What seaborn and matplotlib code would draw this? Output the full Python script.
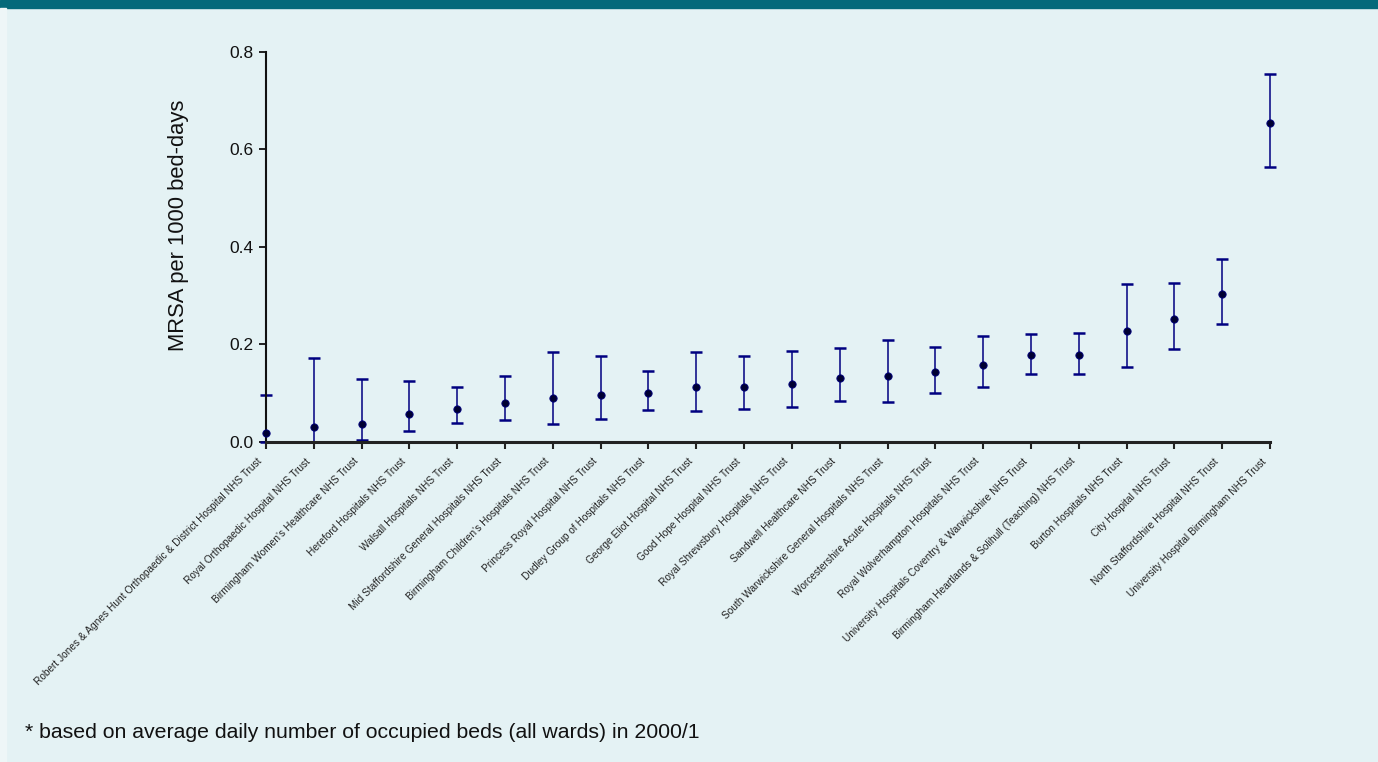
"""
MRSA rate per 1000 bed-days by trust, with confidence intervals
"""

import numpy as np
import pandas as pd
import matplotlib
matplotlib.use('Agg')
import matplotlib.pyplot as plt
from matplotlib.patches import Rectangle
from matplotlib.transforms import ScaledTranslation
import seaborn as sns

trusts = [
    "Robert Jones & Agnes Hunt Orthopaedic & District Hospital NHS Trust",
    "Royal Orthopaedic Hospital NHS Trust",
    "Birmingham Women's Healthcare NHS Trust",
    "Hereford Hospitals NHS Trust",
    "Walsall Hospitals NHS Trust",
    "Mid Staffordshire General Hospitals NHS Trust",
    "Birmingham Children's Hospitals NHS Trust",
    "Princess Royal Hospital NHS Trust",
    "Dudley Group of Hospitals NHS Trust",
    "George Eliot Hospital NHS Trust",
    "Good Hope Hospital NHS Trust",
    "Royal Shrewsbury Hospitals NHS Trust",
    "Sandwell Healthcare NHS Trust",
    "South Warwickshire General Hospitals NHS Trust",
    "Worcestershire Acute Hospitals NHS Trust",
    "Royal Wolverhampton Hospitals NHS Trust",
    "University Hospitals Coventry & Warwickshire NHS Trust",
    "Birmingham Heartlands & Solihull (Teaching) NHS Trust",
    "Burton Hospitals NHS Trust",
    "City Hospital NHS Trust",
    "North Staffordshire Hospital NHS Trust",
    "University Hospital Birmingham NHS Trust",
]

rate = [0.017, 0.031, 0.036, 0.057, 0.068, 0.080, 0.089, 0.095, 0.099, 0.112, 0.112,
        0.118, 0.130, 0.134, 0.143, 0.158, 0.177, 0.177, 0.227, 0.251, 0.304, 0.654]
lower = [0.000, 0.000, 0.004, 0.021, 0.038, 0.044, 0.036, 0.047, 0.066, 0.063, 0.068,
         0.071, 0.084, 0.081, 0.101, 0.112, 0.139, 0.140, 0.153, 0.190, 0.241, 0.564]
upper = [0.096, 0.172, 0.129, 0.125, 0.112, 0.135, 0.184, 0.176, 0.145, 0.185, 0.176,
         0.187, 0.193, 0.209, 0.195, 0.218, 0.222, 0.223, 0.323, 0.326, 0.376, 0.755]

df = pd.DataFrame({'trust': trusts, 'rate': rate, 'lower': lower, 'upper': upper})
df['pos'] = np.arange(len(df))

bg = '#E4F2F4'
sns.set_theme(style='ticks')
plt.rcParams['font.family'] = ['Liberation Sans', 'DejaVu Sans']

fig = plt.figure(figsize=(13.78, 7.62), dpi=100, facecolor=bg)
fig.patches.append(Rectangle((0, 1 - 8 / 762), 1, 8 / 762, transform=fig.transFigure,
                             color='#04697A', zorder=0))
fig.patches.append(Rectangle((0, 0), 6 / 1378, 1 - 8 / 762, transform=fig.transFigure,
                             color='#EEF6F7', zorder=0))

ax = fig.add_axes([266 / 1378, 1 - 441.7 / 762, (1270 - 266) / 1378, (441.7 - 52) / 762])
ax.set_facecolor(bg)

# confidence intervals
ax.errorbar(df['pos'], df['rate'],
            yerr=[df['rate'] - df['lower'], df['upper'] - df['rate']],
            fmt='none', ecolor='#000080', elinewidth=1.1, capsize=4, capthick=1.8,
            clip_on=False, zorder=2)
sns.scatterplot(data=df, x='pos', y='rate', ax=ax, color='#000033', edgecolor='#000080',
                s=28, linewidth=0.6, zorder=3, clip_on=False, legend=False)

ax.set_xlim(0, len(df) - 1)
ax.set_ylim(0, 0.8)
ax.set_yticks([0.0, 0.2, 0.4, 0.6, 0.8])
ax.set_yticklabels(['0.0', '0.2', '0.4', '0.6', '0.8'], fontsize=12.5, color='#111111')
ax.set_xticks(df['pos'])
ax.set_xlabel('')
ax.set_ylabel('MRSA per 1000 bed-days', fontsize=15.8, color='#111111')
ax.yaxis.set_label_coords(-0.077, 0.556)

sns.despine(ax=ax)
ax.spines['bottom'].set_linewidth(2.2)
ax.spines['bottom'].set_color('#222222')
ax.spines['left'].set_linewidth(1.5)
ax.spines['left'].set_color('#111111')
ax.tick_params(axis='x', length=5, width=1.5, color='#222222', pad=4)
ax.tick_params(axis='y', length=5, width=1.3, color='#111111', pad=4)

ax.set_xticklabels(df['trust'], rotation=45, ha='right', va='top',
                   rotation_mode='anchor', fontsize=7.3, color='#222222')
shift = ScaledTranslation(-9 / 100, -2 / 100, fig.dpi_scale_trans)
for lab in ax.get_xticklabels():
    lab.set_transform(lab.get_transform() + shift)

fig.text(25 / 1378, 1 - 733 / 762, '* based on average daily number of occupied beds (all wards) in 2000/1',
         fontsize=15.3, va='center', ha='left', color='#111111')

fig.savefig('out.png', dpi=100, facecolor=bg)
